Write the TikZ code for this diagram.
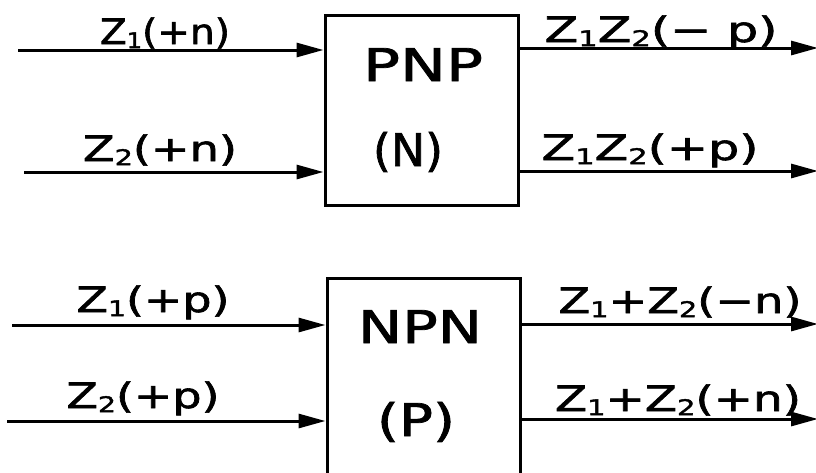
\documentclass[tikz,border=0pt]{standalone}
\usepackage{fontspec}
\setmainfont[FakeBold=1.6]{DejaVu Sans}
\usepackage{graphicx}
\usetikzlibrary{arrows.meta}
% small lowered index digit, as in Z1, Z2
\newcommand\idx[1]{\raisebox{-0.12em}{\scalebox{0.62}{#1}}}
% stretch a label horizontally to a given width, keeping its height
\newcommand\fitw[2]{\resizebox{#1}{\height}{#2}}

\begin{document}
\begin{tikzpicture}[x=1pt,y=-1pt,
  wire/.style={line width=3pt, -{Triangle[length=27pt,width=14pt]}},
  block/.style={draw, line width=3pt, inner sep=0pt,
                minimum width=193pt, minimum height=190pt},
  lbl/.style={inner sep=0pt, anchor=base, font=\fontsize{35}{40}\selectfont},
  big/.style={inner sep=0pt, anchor=base, font=\fontsize{45}{50}\selectfont}]
\fill[white] (0,0) rectangle (816,472);
\useasboundingbox (0,0) rectangle (816,472);
\clip (0,0) rectangle (816,472);

% ---- PNP block -------------------------------------------------
\node[block] (pnp) at (421.5,110) {};
\node[big] (pnpname) at (423,81) {\fitw{120pt}{PNP}};
\node[big] (pnptype) at (408,166) {\fitw{70pt}{(N)}};

\coordinate (pa) at (18,50);
\coordinate (pb) at (24,172);
\coordinate (pc) at (818,48);
\coordinate (pd) at (818,171);
\draw[wire] (pa) -- (pa -| pnp.west);
\draw[wire] (pb) -- (pb -| pnp.west);
\draw[wire] (pnp.east |- pc) -- (pc);
\draw[wire] (pnp.east |- pd) -- (pd);

\node[lbl] (la) at (165,44) {\fitw{130pt}{Z\idx{1}(+n)}};
\node[lbl] (lb) at (160,161) {\fitw{154pt}{Z\idx{2}(+n)}};
\node[lbl] (lc) at (661,42) {\fitw{233pt}{Z\idx{1}Z\idx{2}(− p)}};
\node[lbl] (ld) at (650,160) {\fitw{217pt}{Z\idx{1}Z\idx{2}(+p)}};

% ---- NPN block -------------------------------------------------
\node[block, minimum height=230pt] (npn) at (423.5,393) {};
\node[big] (npnname) at (420,343) {\fitw{124pt}{NPN}};
\node[big] (npntype) at (416,436) {\fitw{78pt}{(P)}};

\coordinate (na) at (12,325);
\coordinate (nb) at (7,421);
\coordinate (nc) at (818,324);
\coordinate (nd) at (818,419);
\draw[wire] (na) -- (na -| npn.west);
\draw[wire] (nb) -- (nb -| npn.west);
\draw[wire] (npn.east |- nc) -- (nc);
\draw[wire] (npn.east |- nd) -- (nd);

\node[lbl] (le) at (153,312) {\fitw{153pt}{Z\idx{1}(+p)}};
\node[lbl] (lf) at (143,408) {\fitw{153pt}{Z\idx{2}(+p)}};
\node[lbl] (lg) at (680,313) {\fitw{243pt}{Z\idx{1}+Z\idx{2}(−n)}};
\node[lbl] (lh) at (678,411) {\fitw{246pt}{Z\idx{1}+Z\idx{2}(+n)}};
\end{tikzpicture}
\end{document}
